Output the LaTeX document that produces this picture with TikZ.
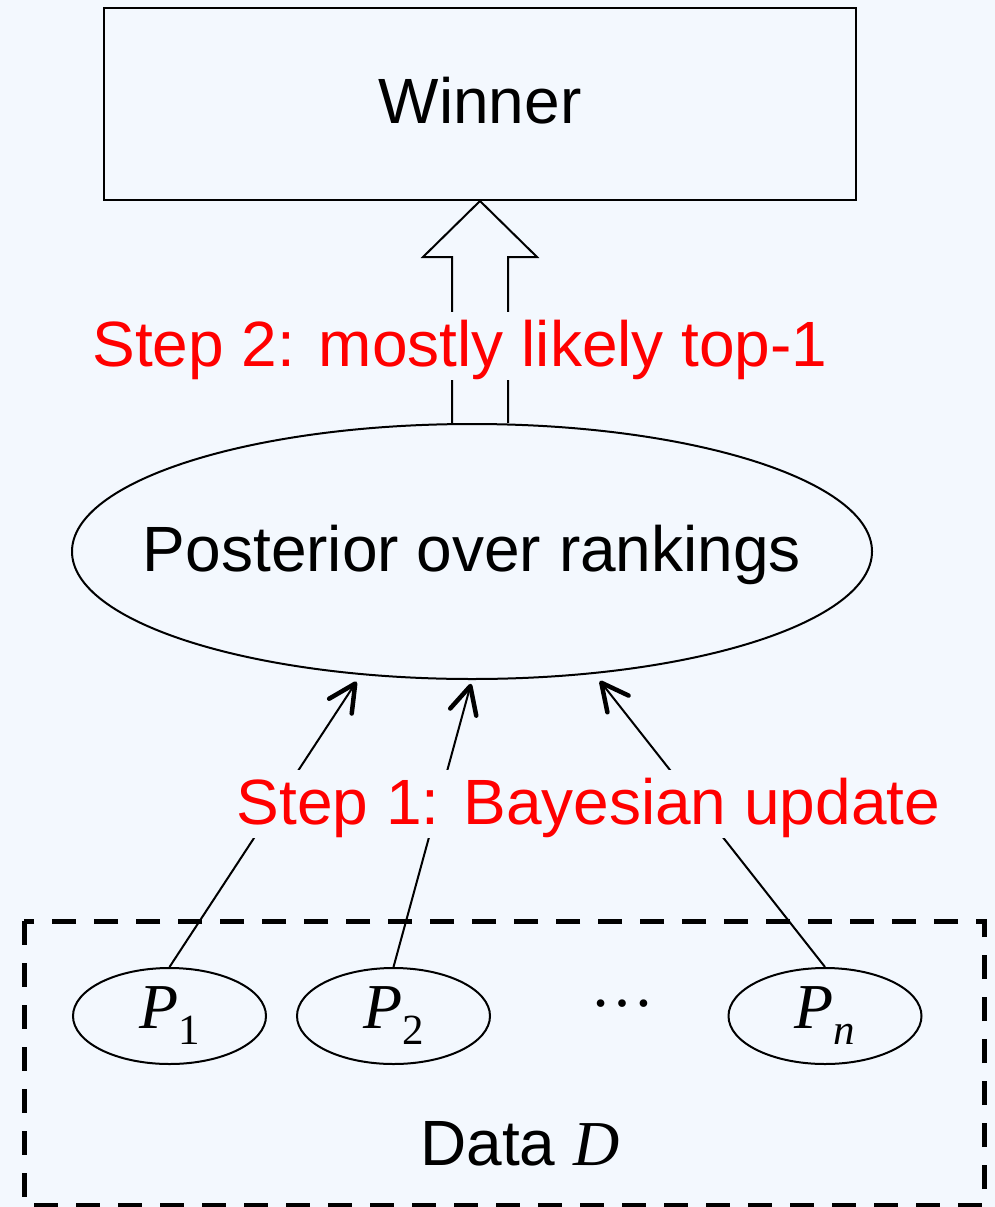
\documentclass[tikz,border=0pt]{standalone}
\usepackage{fontspec}
\setmainfont{Liberation Sans}
\newfontfamily\tms{Liberation Serif}
\usetikzlibrary{shapes.geometric,arrows.meta,calc}
\definecolor{paper}{RGB}{243,248,254}
% P with a lowered subscript, set in Times-like serif
\newcommand{\Psub}[1]{{\tms\itshape P}\raisebox{-16pt}{\tms\fontsize{43}{43}\selectfont #1}}

\begin{document}
\begin{tikzpicture}[x=1pt,y=-1pt,
  big/.style={font=\fontsize{64}{64}\selectfont},
  box/.style={draw, line width=2pt, rectangle, minimum width=752pt, minimum height=192pt, inner sep=0pt},
  oval/.style={draw, line width=2pt, ellipse, inner sep=0pt},
  link/.style={line width=2pt, -{Straight Barb[length=27pt,width=27pt,line width=4.5pt,round]}},
  steplabel/.style={big, text=red, fill=paper, inner xsep=2pt, inner ysep=0pt,
                    text height=54pt, text depth=14pt, anchor=base},
]
% canvas
\fill[paper] (0,0) rectangle (995,1207);
\useasboundingbox (0,0) rectangle (995,1207);

% nodes
\node[box, big, text height=46pt, text depth=8pt] (winner) at (480,104) {Winner};
\node[oval, big, inner xsep=-60pt, minimum width=800pt, minimum height=255pt,
      text height=46pt, text depth=7pt]
  (post) at (472,551.5) {Posterior over rankings};
\node[oval, big, minimum width=193pt, minimum height=96pt] (p1) at (169.5,1016) {\Psub{1}};
\node[oval, big, minimum width=193pt, minimum height=96pt] (p2) at (393.5,1016) {\Psub{2}};
\node[oval, big, minimum width=193pt, minimum height=96pt] (pn) at (825,1016) {\Psub{\itshape n}};
\node[big, anchor=base, inner sep=0pt] (dots) at (622,1006) {\tms …};
\node[big, anchor=base, inner sep=0pt] (datalabel) at (520,1165) {Data {\tms\itshape D}};

% data container
\draw[line width=5pt, dash pattern=on 24pt off 18pt] (24,921) rectangle (984,1205);

% block arrow from the posterior up to the winner
\coordinate (shaftL) at ($(winner.south)+(-28,56)$);
\coordinate (shaftR) at ($(winner.south)+(28,56)$);
\draw[line width=2pt, line join=miter]
  (shaftL |- post.north) -- (shaftL)
  -- ++(-29,0) -- (winner.south) -- ++(57,56) -- ++(-29,0)
  -- (shaftR |- post.north);

% Bayesian update arrows
\draw[link, shorten >=8pt] (p1.north) -- (post.228.5);
\draw[link, shorten >=4pt] (p2.north) -- (post.270);
\draw[link, shorten >=9pt] (pn.north) -- (post.315.3);

% step labels
\node[steplabel] (step2) at (460,366) {Step 2: mostly likely top-1};
\node[steplabel] (step1) at (588.5,824) {Step 1: Bayesian update};
\end{tikzpicture}
\end{document}
